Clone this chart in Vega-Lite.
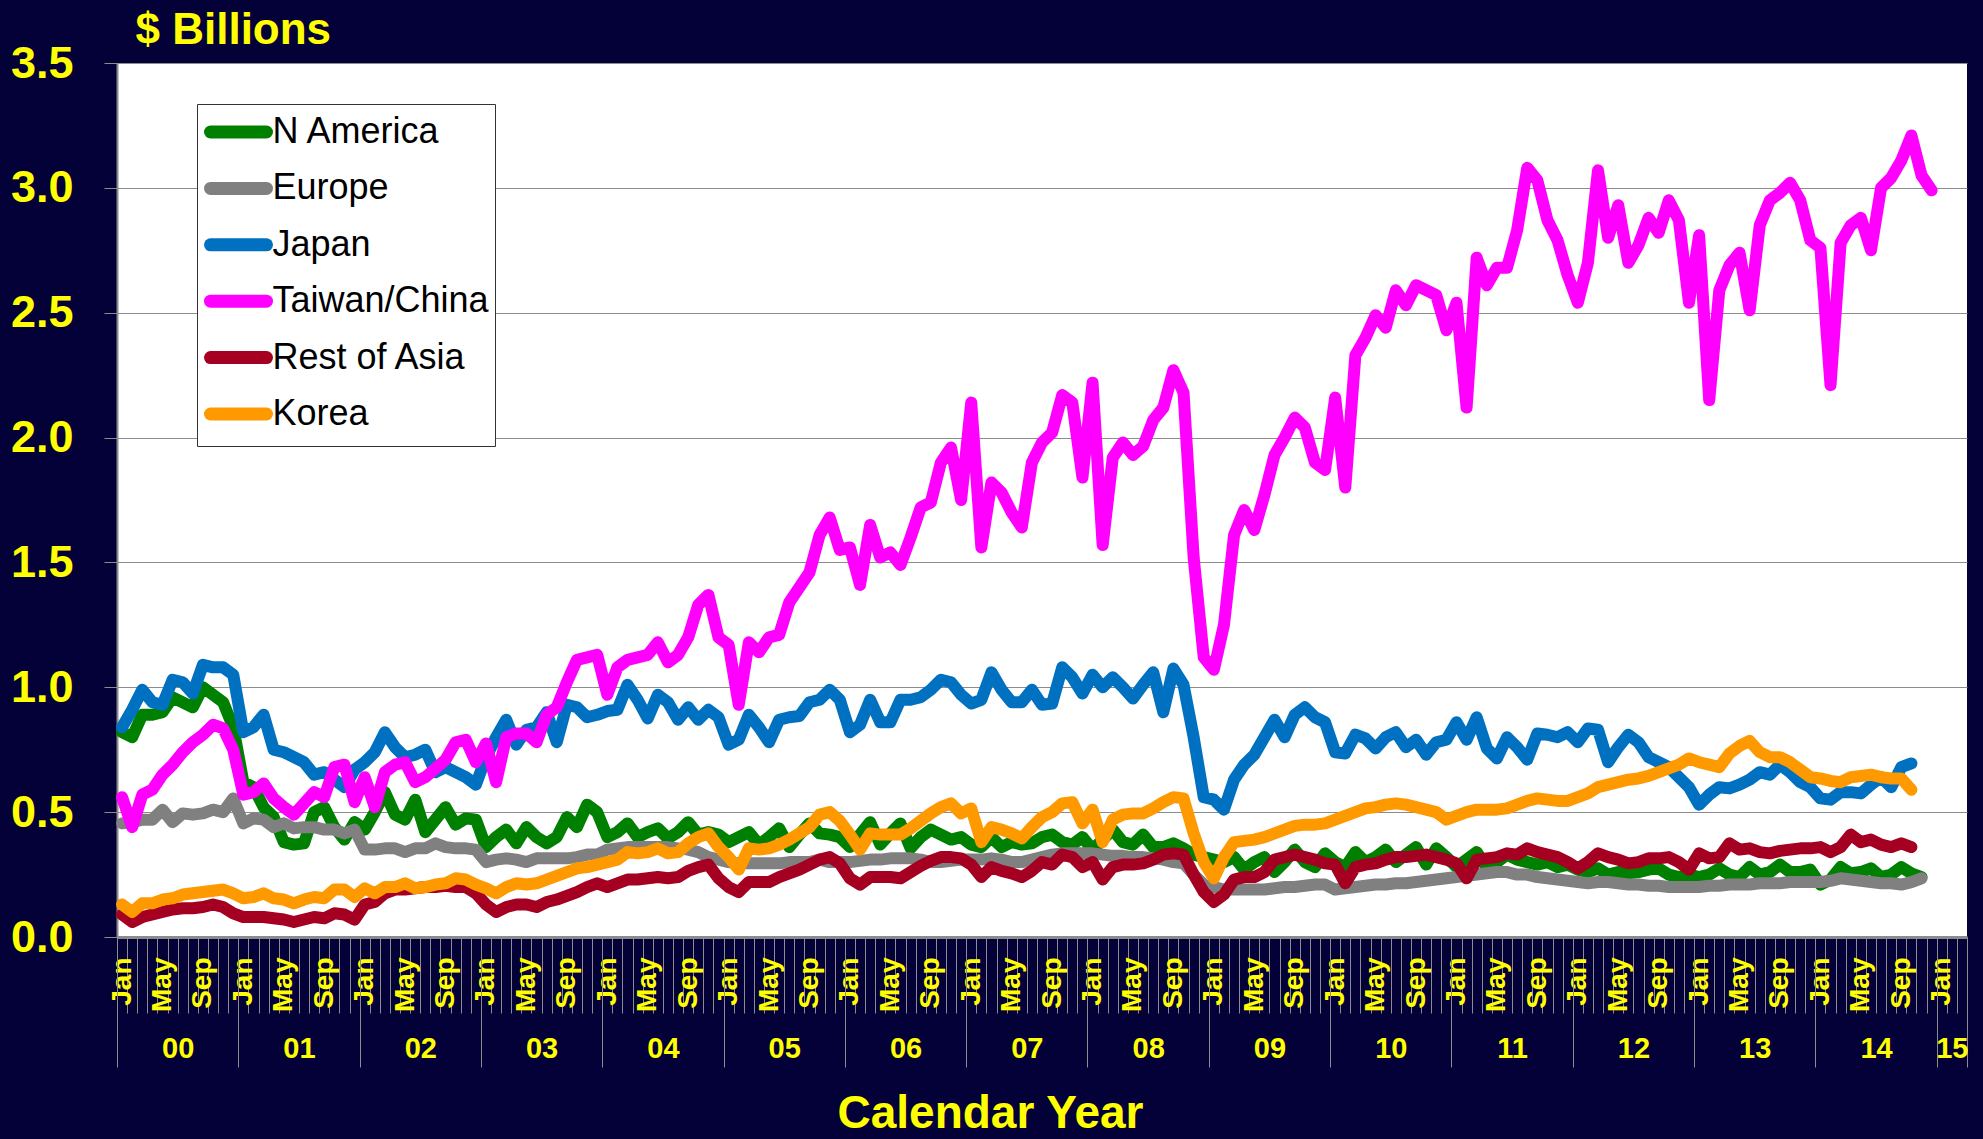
{
"$schema":"https://vega.github.io/schema/vega-lite/v6.json",
"width":1850,"height":874,
"autosize":{"type":"none"},
"padding":{"left":117,"top":63,"right":16,"bottom":202},
"background":"#040038",
"config":{"font":"Liberation Sans","view":{"fill":"white","stroke":null},
"axis":{"labelFont":"Liberation Sans","labelFontWeight":"bold","labelColor":"#FFFF00","tickColor":"#8c8c8c","domainColor":"#8c8c8c","grid":false,"labelFlush":false,"labelOverlap":false,"labelBound":false,"titleFont":"Liberation Sans","titleFontWeight":"bold","titleColor":"#FFFF00"}},
"data":{"values":[
{"s":"N America","m":0,"v":0.82},{"s":"N America","m":1,"v":0.80},{"s":"N America","m":2,"v":0.89},{"s":"N America","m":3,"v":0.89},{"s":"N America","m":4,"v":0.90},{"s":"N America","m":5,"v":0.96},{"s":"N America","m":6,"v":0.94},{"s":"N America","m":7,"v":0.92},{"s":"N America","m":8,"v":1.00},{"s":"N America","m":9,"v":0.97},{"s":"N America","m":10,"v":0.94},{"s":"N America","m":11,"v":0.84},
{"s":"N America","m":12,"v":0.62},{"s":"N America","m":13,"v":0.60},{"s":"N America","m":14,"v":0.52},{"s":"N America","m":15,"v":0.48},{"s":"N America","m":16,"v":0.38},{"s":"N America","m":17,"v":0.37},{"s":"N America","m":18,"v":0.375},{"s":"N America","m":19,"v":0.50},{"s":"N America","m":20,"v":0.52},{"s":"N America","m":21,"v":0.44},{"s":"N America","m":22,"v":0.39},{"s":"N America","m":23,"v":0.46},
{"s":"N America","m":24,"v":0.43},{"s":"N America","m":25,"v":0.50},{"s":"N America","m":26,"v":0.58},{"s":"N America","m":27,"v":0.49},{"s":"N America","m":28,"v":0.47},{"s":"N America","m":29,"v":0.55},{"s":"N America","m":30,"v":0.42},{"s":"N America","m":31,"v":0.47},{"s":"N America","m":32,"v":0.52},{"s":"N America","m":33,"v":0.45},{"s":"N America","m":34,"v":0.475},{"s":"N America","m":35,"v":0.47},
{"s":"N America","m":36,"v":0.36},{"s":"N America","m":37,"v":0.40},{"s":"N America","m":38,"v":0.43},{"s":"N America","m":39,"v":0.375},{"s":"N America","m":40,"v":0.44},{"s":"N America","m":41,"v":0.40},{"s":"N America","m":42,"v":0.375},{"s":"N America","m":43,"v":0.40},{"s":"N America","m":44,"v":0.48},{"s":"N America","m":45,"v":0.44},{"s":"N America","m":46,"v":0.53},{"s":"N America","m":47,"v":0.50},
{"s":"N America","m":48,"v":0.40},{"s":"N America","m":49,"v":0.42},{"s":"N America","m":50,"v":0.455},{"s":"N America","m":51,"v":0.40},{"s":"N America","m":52,"v":0.42},{"s":"N America","m":53,"v":0.435},{"s":"N America","m":54,"v":0.395},{"s":"N America","m":55,"v":0.42},{"s":"N America","m":56,"v":0.46},{"s":"N America","m":57,"v":0.41},{"s":"N America","m":58,"v":0.42},{"s":"N America","m":59,"v":0.41},
{"s":"N America","m":60,"v":0.38},{"s":"N America","m":61,"v":0.40},{"s":"N America","m":62,"v":0.42},{"s":"N America","m":63,"v":0.37},{"s":"N America","m":64,"v":0.40},{"s":"N America","m":65,"v":0.435},{"s":"N America","m":66,"v":0.36},{"s":"N America","m":67,"v":0.41},{"s":"N America","m":68,"v":0.455},{"s":"N America","m":69,"v":0.415},{"s":"N America","m":70,"v":0.41},{"s":"N America","m":71,"v":0.40},
{"s":"N America","m":72,"v":0.36},{"s":"N America","m":73,"v":0.41},{"s":"N America","m":74,"v":0.46},{"s":"N America","m":75,"v":0.37},{"s":"N America","m":76,"v":0.415},{"s":"N America","m":77,"v":0.455},{"s":"N America","m":78,"v":0.355},{"s":"N America","m":79,"v":0.40},{"s":"N America","m":80,"v":0.43},{"s":"N America","m":81,"v":0.41},{"s":"N America","m":82,"v":0.39},{"s":"N America","m":83,"v":0.40},
{"s":"N America","m":84,"v":0.37},{"s":"N America","m":85,"v":0.36},{"s":"N America","m":86,"v":0.40},{"s":"N America","m":87,"v":0.36},{"s":"N America","m":88,"v":0.38},{"s":"N America","m":89,"v":0.37},{"s":"N America","m":90,"v":0.375},{"s":"N America","m":91,"v":0.40},{"s":"N America","m":92,"v":0.41},{"s":"N America","m":93,"v":0.38},{"s":"N America","m":94,"v":0.37},{"s":"N America","m":95,"v":0.40},
{"s":"N America","m":96,"v":0.35},{"s":"N America","m":97,"v":0.39},{"s":"N America","m":98,"v":0.43},{"s":"N America","m":99,"v":0.38},{"s":"N America","m":100,"v":0.37},{"s":"N America","m":101,"v":0.41},{"s":"N America","m":102,"v":0.36},{"s":"N America","m":103,"v":0.36},{"s":"N America","m":104,"v":0.375},{"s":"N America","m":105,"v":0.355},{"s":"N America","m":106,"v":0.33},{"s":"N America","m":107,"v":0.32},
{"s":"N America","m":108,"v":0.31},{"s":"N America","m":109,"v":0.30},{"s":"N America","m":110,"v":0.32},{"s":"N America","m":111,"v":0.27},{"s":"N America","m":112,"v":0.30},{"s":"N America","m":113,"v":0.32},{"s":"N America","m":114,"v":0.26},{"s":"N America","m":115,"v":0.30},{"s":"N America","m":116,"v":0.35},{"s":"N America","m":117,"v":0.30},{"s":"N America","m":118,"v":0.28},{"s":"N America","m":119,"v":0.335},
{"s":"N America","m":120,"v":0.30},{"s":"N America","m":121,"v":0.28},{"s":"N America","m":122,"v":0.34},{"s":"N America","m":123,"v":0.30},{"s":"N America","m":124,"v":0.32},{"s":"N America","m":125,"v":0.35},{"s":"N America","m":126,"v":0.30},{"s":"N America","m":127,"v":0.33},{"s":"N America","m":128,"v":0.36},{"s":"N America","m":129,"v":0.29},{"s":"N America","m":130,"v":0.355},{"s":"N America","m":131,"v":0.32},
{"s":"N America","m":132,"v":0.28},{"s":"N America","m":133,"v":0.31},{"s":"N America","m":134,"v":0.34},{"s":"N America","m":135,"v":0.28},{"s":"N America","m":136,"v":0.30},{"s":"N America","m":137,"v":0.33},{"s":"N America","m":138,"v":0.31},{"s":"N America","m":139,"v":0.30},{"s":"N America","m":140,"v":0.29},{"s":"N America","m":141,"v":0.30},{"s":"N America","m":142,"v":0.28},{"s":"N America","m":143,"v":0.29},
{"s":"N America","m":144,"v":0.27},{"s":"N America","m":145,"v":0.26},{"s":"N America","m":146,"v":0.275},{"s":"N America","m":147,"v":0.25},{"s":"N America","m":148,"v":0.26},{"s":"N America","m":149,"v":0.255},{"s":"N America","m":150,"v":0.26},{"s":"N America","m":151,"v":0.27},{"s":"N America","m":152,"v":0.275},{"s":"N America","m":153,"v":0.25},{"s":"N America","m":154,"v":0.24},{"s":"N America","m":155,"v":0.25},
{"s":"N America","m":156,"v":0.24},{"s":"N America","m":157,"v":0.25},{"s":"N America","m":158,"v":0.275},{"s":"N America","m":159,"v":0.25},{"s":"N America","m":160,"v":0.24},{"s":"N America","m":161,"v":0.28},{"s":"N America","m":162,"v":0.25},{"s":"N America","m":163,"v":0.26},{"s":"N America","m":164,"v":0.29},{"s":"N America","m":165,"v":0.26},{"s":"N America","m":166,"v":0.26},{"s":"N America","m":167,"v":0.27},
{"s":"N America","m":168,"v":0.21},{"s":"N America","m":169,"v":0.23},{"s":"N America","m":170,"v":0.28},{"s":"N America","m":171,"v":0.255},{"s":"N America","m":172,"v":0.26},{"s":"N America","m":173,"v":0.275},{"s":"N America","m":174,"v":0.24},{"s":"N America","m":175,"v":0.25},{"s":"N America","m":176,"v":0.28},{"s":"N America","m":177,"v":0.255},{"s":"N America","m":178,"v":0.24},
{"s":"Europe","m":0,"v":0.455},{"s":"Europe","m":1,"v":0.46},{"s":"Europe","m":2,"v":0.47},{"s":"Europe","m":3,"v":0.47},{"s":"Europe","m":4,"v":0.51},{"s":"Europe","m":5,"v":0.46},{"s":"Europe","m":6,"v":0.495},{"s":"Europe","m":7,"v":0.49},{"s":"Europe","m":8,"v":0.495},{"s":"Europe","m":9,"v":0.51},{"s":"Europe","m":10,"v":0.50},{"s":"Europe","m":11,"v":0.555},
{"s":"Europe","m":12,"v":0.455},{"s":"Europe","m":13,"v":0.475},{"s":"Europe","m":14,"v":0.47},{"s":"Europe","m":15,"v":0.44},{"s":"Europe","m":16,"v":0.455},{"s":"Europe","m":17,"v":0.435},{"s":"Europe","m":18,"v":0.44},{"s":"Europe","m":19,"v":0.44},{"s":"Europe","m":20,"v":0.43},{"s":"Europe","m":21,"v":0.43},{"s":"Europe","m":22,"v":0.415},{"s":"Europe","m":23,"v":0.43},
{"s":"Europe","m":24,"v":0.35},{"s":"Europe","m":25,"v":0.35},{"s":"Europe","m":26,"v":0.355},{"s":"Europe","m":27,"v":0.355},{"s":"Europe","m":28,"v":0.34},{"s":"Europe","m":29,"v":0.355},{"s":"Europe","m":30,"v":0.355},{"s":"Europe","m":31,"v":0.375},{"s":"Europe","m":32,"v":0.36},{"s":"Europe","m":33,"v":0.355},{"s":"Europe","m":34,"v":0.355},{"s":"Europe","m":35,"v":0.35},
{"s":"Europe","m":36,"v":0.30},{"s":"Europe","m":37,"v":0.31},{"s":"Europe","m":38,"v":0.315},{"s":"Europe","m":39,"v":0.31},{"s":"Europe","m":40,"v":0.30},{"s":"Europe","m":41,"v":0.315},{"s":"Europe","m":42,"v":0.315},{"s":"Europe","m":43,"v":0.315},{"s":"Europe","m":44,"v":0.315},{"s":"Europe","m":45,"v":0.32},{"s":"Europe","m":46,"v":0.33},{"s":"Europe","m":47,"v":0.33},
{"s":"Europe","m":48,"v":0.35},{"s":"Europe","m":49,"v":0.355},{"s":"Europe","m":50,"v":0.36},{"s":"Europe","m":51,"v":0.36},{"s":"Europe","m":52,"v":0.36},{"s":"Europe","m":53,"v":0.36},{"s":"Europe","m":54,"v":0.36},{"s":"Europe","m":55,"v":0.355},{"s":"Europe","m":56,"v":0.35},{"s":"Europe","m":57,"v":0.34},{"s":"Europe","m":58,"v":0.32},{"s":"Europe","m":59,"v":0.31},
{"s":"Europe","m":60,"v":0.30},{"s":"Europe","m":61,"v":0.295},{"s":"Europe","m":62,"v":0.295},{"s":"Europe","m":63,"v":0.295},{"s":"Europe","m":64,"v":0.295},{"s":"Europe","m":65,"v":0.295},{"s":"Europe","m":66,"v":0.30},{"s":"Europe","m":67,"v":0.30},{"s":"Europe","m":68,"v":0.30},{"s":"Europe","m":69,"v":0.31},{"s":"Europe","m":70,"v":0.30},{"s":"Europe","m":71,"v":0.30},
{"s":"Europe","m":72,"v":0.30},{"s":"Europe","m":73,"v":0.305},{"s":"Europe","m":74,"v":0.31},{"s":"Europe","m":75,"v":0.31},{"s":"Europe","m":76,"v":0.315},{"s":"Europe","m":77,"v":0.315},{"s":"Europe","m":78,"v":0.315},{"s":"Europe","m":79,"v":0.31},{"s":"Europe","m":80,"v":0.30},{"s":"Europe","m":81,"v":0.30},{"s":"Europe","m":82,"v":0.305},{"s":"Europe","m":83,"v":0.31},
{"s":"Europe","m":84,"v":0.31},{"s":"Europe","m":85,"v":0.31},{"s":"Europe","m":86,"v":0.315},{"s":"Europe","m":87,"v":0.31},{"s":"Europe","m":88,"v":0.30},{"s":"Europe","m":89,"v":0.30},{"s":"Europe","m":90,"v":0.31},{"s":"Europe","m":91,"v":0.32},{"s":"Europe","m":92,"v":0.33},{"s":"Europe","m":93,"v":0.335},{"s":"Europe","m":94,"v":0.335},{"s":"Europe","m":95,"v":0.335},
{"s":"Europe","m":96,"v":0.335},{"s":"Europe","m":97,"v":0.33},{"s":"Europe","m":98,"v":0.325},{"s":"Europe","m":99,"v":0.325},{"s":"Europe","m":100,"v":0.32},{"s":"Europe","m":101,"v":0.32},{"s":"Europe","m":102,"v":0.315},{"s":"Europe","m":103,"v":0.31},{"s":"Europe","m":104,"v":0.30},{"s":"Europe","m":105,"v":0.295},{"s":"Europe","m":106,"v":0.25},{"s":"Europe","m":107,"v":0.21},
{"s":"Europe","m":108,"v":0.20},{"s":"Europe","m":109,"v":0.19},{"s":"Europe","m":110,"v":0.19},{"s":"Europe","m":111,"v":0.19},{"s":"Europe","m":112,"v":0.19},{"s":"Europe","m":113,"v":0.19},{"s":"Europe","m":114,"v":0.195},{"s":"Europe","m":115,"v":0.20},{"s":"Europe","m":116,"v":0.20},{"s":"Europe","m":117,"v":0.205},{"s":"Europe","m":118,"v":0.21},{"s":"Europe","m":119,"v":0.21},
{"s":"Europe","m":120,"v":0.19},{"s":"Europe","m":121,"v":0.195},{"s":"Europe","m":122,"v":0.20},{"s":"Europe","m":123,"v":0.205},{"s":"Europe","m":124,"v":0.21},{"s":"Europe","m":125,"v":0.21},{"s":"Europe","m":126,"v":0.215},{"s":"Europe","m":127,"v":0.215},{"s":"Europe","m":128,"v":0.22},{"s":"Europe","m":129,"v":0.225},{"s":"Europe","m":130,"v":0.23},{"s":"Europe","m":131,"v":0.235},
{"s":"Europe","m":132,"v":0.24},{"s":"Europe","m":133,"v":0.245},{"s":"Europe","m":134,"v":0.25},{"s":"Europe","m":135,"v":0.255},{"s":"Europe","m":136,"v":0.26},{"s":"Europe","m":137,"v":0.26},{"s":"Europe","m":138,"v":0.25},{"s":"Europe","m":139,"v":0.25},{"s":"Europe","m":140,"v":0.24},{"s":"Europe","m":141,"v":0.235},{"s":"Europe","m":142,"v":0.23},{"s":"Europe","m":143,"v":0.225},
{"s":"Europe","m":144,"v":0.22},{"s":"Europe","m":145,"v":0.215},{"s":"Europe","m":146,"v":0.22},{"s":"Europe","m":147,"v":0.22},{"s":"Europe","m":148,"v":0.215},{"s":"Europe","m":149,"v":0.21},{"s":"Europe","m":150,"v":0.21},{"s":"Europe","m":151,"v":0.205},{"s":"Europe","m":152,"v":0.205},{"s":"Europe","m":153,"v":0.20},{"s":"Europe","m":154,"v":0.20},{"s":"Europe","m":155,"v":0.20},
{"s":"Europe","m":156,"v":0.20},{"s":"Europe","m":157,"v":0.205},{"s":"Europe","m":158,"v":0.205},{"s":"Europe","m":159,"v":0.21},{"s":"Europe","m":160,"v":0.21},{"s":"Europe","m":161,"v":0.21},{"s":"Europe","m":162,"v":0.215},{"s":"Europe","m":163,"v":0.215},{"s":"Europe","m":164,"v":0.215},{"s":"Europe","m":165,"v":0.22},{"s":"Europe","m":166,"v":0.22},{"s":"Europe","m":167,"v":0.22},
{"s":"Europe","m":168,"v":0.22},{"s":"Europe","m":169,"v":0.225},{"s":"Europe","m":170,"v":0.235},{"s":"Europe","m":171,"v":0.23},{"s":"Europe","m":172,"v":0.225},{"s":"Europe","m":173,"v":0.22},{"s":"Europe","m":174,"v":0.215},{"s":"Europe","m":175,"v":0.215},{"s":"Europe","m":176,"v":0.21},{"s":"Europe","m":177,"v":0.22},{"s":"Europe","m":178,"v":0.235},
{"s":"Japan","m":0,"v":0.84},{"s":"Japan","m":1,"v":0.91},{"s":"Japan","m":2,"v":0.99},{"s":"Japan","m":3,"v":0.94},{"s":"Japan","m":4,"v":0.93},{"s":"Japan","m":5,"v":1.03},{"s":"Japan","m":6,"v":1.02},{"s":"Japan","m":7,"v":0.975},{"s":"Japan","m":8,"v":1.09},{"s":"Japan","m":9,"v":1.08},{"s":"Japan","m":10,"v":1.08},{"s":"Japan","m":11,"v":1.05},
{"s":"Japan","m":12,"v":0.82},{"s":"Japan","m":13,"v":0.84},{"s":"Japan","m":14,"v":0.89},{"s":"Japan","m":15,"v":0.75},{"s":"Japan","m":16,"v":0.74},{"s":"Japan","m":17,"v":0.72},{"s":"Japan","m":18,"v":0.70},{"s":"Japan","m":19,"v":0.65},{"s":"Japan","m":20,"v":0.66},{"s":"Japan","m":21,"v":0.63},{"s":"Japan","m":22,"v":0.60},{"s":"Japan","m":23,"v":0.67},
{"s":"Japan","m":24,"v":0.70},{"s":"Japan","m":25,"v":0.74},{"s":"Japan","m":26,"v":0.82},{"s":"Japan","m":27,"v":0.76},{"s":"Japan","m":28,"v":0.72},{"s":"Japan","m":29,"v":0.73},{"s":"Japan","m":30,"v":0.75},{"s":"Japan","m":31,"v":0.66},{"s":"Japan","m":32,"v":0.68},{"s":"Japan","m":33,"v":0.66},{"s":"Japan","m":34,"v":0.64},{"s":"Japan","m":35,"v":0.61},
{"s":"Japan","m":36,"v":0.72},{"s":"Japan","m":37,"v":0.80},{"s":"Japan","m":38,"v":0.87},{"s":"Japan","m":39,"v":0.77},{"s":"Japan","m":40,"v":0.83},{"s":"Japan","m":41,"v":0.84},{"s":"Japan","m":42,"v":0.90},{"s":"Japan","m":43,"v":0.78},{"s":"Japan","m":44,"v":0.93},{"s":"Japan","m":45,"v":0.92},{"s":"Japan","m":46,"v":0.88},{"s":"Japan","m":47,"v":0.89},
{"s":"Japan","m":48,"v":0.905},{"s":"Japan","m":49,"v":0.91},{"s":"Japan","m":50,"v":1.01},{"s":"Japan","m":51,"v":0.95},{"s":"Japan","m":52,"v":0.875},{"s":"Japan","m":53,"v":0.97},{"s":"Japan","m":54,"v":0.94},{"s":"Japan","m":55,"v":0.87},{"s":"Japan","m":56,"v":0.92},{"s":"Japan","m":57,"v":0.87},{"s":"Japan","m":58,"v":0.91},{"s":"Japan","m":59,"v":0.88},
{"s":"Japan","m":60,"v":0.77},{"s":"Japan","m":61,"v":0.79},{"s":"Japan","m":62,"v":0.89},{"s":"Japan","m":63,"v":0.84},{"s":"Japan","m":64,"v":0.78},{"s":"Japan","m":65,"v":0.87},{"s":"Japan","m":66,"v":0.88},{"s":"Japan","m":67,"v":0.885},{"s":"Japan","m":68,"v":0.94},{"s":"Japan","m":69,"v":0.95},{"s":"Japan","m":70,"v":0.99},{"s":"Japan","m":71,"v":0.95},
{"s":"Japan","m":72,"v":0.82},{"s":"Japan","m":73,"v":0.85},{"s":"Japan","m":74,"v":0.95},{"s":"Japan","m":75,"v":0.86},{"s":"Japan","m":76,"v":0.86},{"s":"Japan","m":77,"v":0.95},{"s":"Japan","m":78,"v":0.95},{"s":"Japan","m":79,"v":0.96},{"s":"Japan","m":80,"v":0.99},{"s":"Japan","m":81,"v":1.03},{"s":"Japan","m":82,"v":1.02},{"s":"Japan","m":83,"v":0.97},
{"s":"Japan","m":84,"v":0.935},{"s":"Japan","m":85,"v":0.95},{"s":"Japan","m":86,"v":1.06},{"s":"Japan","m":87,"v":0.99},{"s":"Japan","m":88,"v":0.94},{"s":"Japan","m":89,"v":0.94},{"s":"Japan","m":90,"v":0.99},{"s":"Japan","m":91,"v":0.93},{"s":"Japan","m":92,"v":0.935},{"s":"Japan","m":93,"v":1.08},{"s":"Japan","m":94,"v":1.04},{"s":"Japan","m":95,"v":0.975},
{"s":"Japan","m":96,"v":1.05},{"s":"Japan","m":97,"v":1.00},{"s":"Japan","m":98,"v":1.04},{"s":"Japan","m":99,"v":1.00},{"s":"Japan","m":100,"v":0.955},{"s":"Japan","m":101,"v":1.01},{"s":"Japan","m":102,"v":1.06},{"s":"Japan","m":103,"v":0.90},{"s":"Japan","m":104,"v":1.075},{"s":"Japan","m":105,"v":1.01},{"s":"Japan","m":106,"v":0.80},{"s":"Japan","m":107,"v":0.56},
{"s":"Japan","m":108,"v":0.55},{"s":"Japan","m":109,"v":0.51},{"s":"Japan","m":110,"v":0.63},{"s":"Japan","m":111,"v":0.69},{"s":"Japan","m":112,"v":0.73},{"s":"Japan","m":113,"v":0.80},{"s":"Japan","m":114,"v":0.87},{"s":"Japan","m":115,"v":0.80},{"s":"Japan","m":116,"v":0.89},{"s":"Japan","m":117,"v":0.92},{"s":"Japan","m":118,"v":0.88},{"s":"Japan","m":119,"v":0.86},
{"s":"Japan","m":120,"v":0.74},{"s":"Japan","m":121,"v":0.735},{"s":"Japan","m":122,"v":0.81},{"s":"Japan","m":123,"v":0.795},{"s":"Japan","m":124,"v":0.755},{"s":"Japan","m":125,"v":0.80},{"s":"Japan","m":126,"v":0.82},{"s":"Japan","m":127,"v":0.76},{"s":"Japan","m":128,"v":0.79},{"s":"Japan","m":129,"v":0.73},{"s":"Japan","m":130,"v":0.78},{"s":"Japan","m":131,"v":0.79},
{"s":"Japan","m":132,"v":0.86},{"s":"Japan","m":133,"v":0.79},{"s":"Japan","m":134,"v":0.88},{"s":"Japan","m":135,"v":0.755},{"s":"Japan","m":136,"v":0.715},{"s":"Japan","m":137,"v":0.80},{"s":"Japan","m":138,"v":0.76},{"s":"Japan","m":139,"v":0.71},{"s":"Japan","m":140,"v":0.815},{"s":"Japan","m":141,"v":0.81},{"s":"Japan","m":142,"v":0.80},{"s":"Japan","m":143,"v":0.82},
{"s":"Japan","m":144,"v":0.78},{"s":"Japan","m":145,"v":0.835},{"s":"Japan","m":146,"v":0.83},{"s":"Japan","m":147,"v":0.70},{"s":"Japan","m":148,"v":0.76},{"s":"Japan","m":149,"v":0.81},{"s":"Japan","m":150,"v":0.78},{"s":"Japan","m":151,"v":0.72},{"s":"Japan","m":152,"v":0.70},{"s":"Japan","m":153,"v":0.68},{"s":"Japan","m":154,"v":0.64},{"s":"Japan","m":155,"v":0.60},
{"s":"Japan","m":156,"v":0.53},{"s":"Japan","m":157,"v":0.57},{"s":"Japan","m":158,"v":0.60},{"s":"Japan","m":159,"v":0.595},{"s":"Japan","m":160,"v":0.61},{"s":"Japan","m":161,"v":0.63},{"s":"Japan","m":162,"v":0.66},{"s":"Japan","m":163,"v":0.65},{"s":"Japan","m":164,"v":0.69},{"s":"Japan","m":165,"v":0.66},{"s":"Japan","m":166,"v":0.62},{"s":"Japan","m":167,"v":0.60},
{"s":"Japan","m":168,"v":0.555},{"s":"Japan","m":169,"v":0.55},{"s":"Japan","m":170,"v":0.58},{"s":"Japan","m":171,"v":0.58},{"s":"Japan","m":172,"v":0.575},{"s":"Japan","m":173,"v":0.61},{"s":"Japan","m":174,"v":0.64},{"s":"Japan","m":175,"v":0.60},{"s":"Japan","m":176,"v":0.68},{"s":"Japan","m":177,"v":0.695},
{"s":"Taiwan/China","m":0,"v":0.56},{"s":"Taiwan/China","m":1,"v":0.44},{"s":"Taiwan/China","m":2,"v":0.57},{"s":"Taiwan/China","m":3,"v":0.59},{"s":"Taiwan/China","m":4,"v":0.65},{"s":"Taiwan/China","m":5,"v":0.69},{"s":"Taiwan/China","m":6,"v":0.74},{"s":"Taiwan/China","m":7,"v":0.78},{"s":"Taiwan/China","m":8,"v":0.81},{"s":"Taiwan/China","m":9,"v":0.85},{"s":"Taiwan/China","m":10,"v":0.835},{"s":"Taiwan/China","m":11,"v":0.75},
{"s":"Taiwan/China","m":12,"v":0.57},{"s":"Taiwan/China","m":13,"v":0.58},{"s":"Taiwan/China","m":14,"v":0.615},{"s":"Taiwan/China","m":15,"v":0.555},{"s":"Taiwan/China","m":16,"v":0.52},{"s":"Taiwan/China","m":17,"v":0.49},{"s":"Taiwan/China","m":18,"v":0.535},{"s":"Taiwan/China","m":19,"v":0.58},{"s":"Taiwan/China","m":20,"v":0.56},{"s":"Taiwan/China","m":21,"v":0.68},{"s":"Taiwan/China","m":22,"v":0.69},{"s":"Taiwan/China","m":23,"v":0.54},
{"s":"Taiwan/China","m":24,"v":0.64},{"s":"Taiwan/China","m":25,"v":0.52},{"s":"Taiwan/China","m":26,"v":0.66},{"s":"Taiwan/China","m":27,"v":0.69},{"s":"Taiwan/China","m":28,"v":0.70},{"s":"Taiwan/China","m":29,"v":0.62},{"s":"Taiwan/China","m":30,"v":0.64},{"s":"Taiwan/China","m":31,"v":0.675},{"s":"Taiwan/China","m":32,"v":0.71},{"s":"Taiwan/China","m":33,"v":0.78},{"s":"Taiwan/China","m":34,"v":0.79},{"s":"Taiwan/China","m":35,"v":0.70},
{"s":"Taiwan/China","m":36,"v":0.775},{"s":"Taiwan/China","m":37,"v":0.62},{"s":"Taiwan/China","m":38,"v":0.80},{"s":"Taiwan/China","m":39,"v":0.815},{"s":"Taiwan/China","m":40,"v":0.815},{"s":"Taiwan/China","m":41,"v":0.78},{"s":"Taiwan/China","m":42,"v":0.89},{"s":"Taiwan/China","m":43,"v":0.92},{"s":"Taiwan/China","m":44,"v":1.02},{"s":"Taiwan/China","m":45,"v":1.11},{"s":"Taiwan/China","m":46,"v":1.12},{"s":"Taiwan/China","m":47,"v":1.13},
{"s":"Taiwan/China","m":48,"v":0.97},{"s":"Taiwan/China","m":49,"v":1.08},{"s":"Taiwan/China","m":50,"v":1.11},{"s":"Taiwan/China","m":51,"v":1.12},{"s":"Taiwan/China","m":52,"v":1.13},{"s":"Taiwan/China","m":53,"v":1.18},{"s":"Taiwan/China","m":54,"v":1.10},{"s":"Taiwan/China","m":55,"v":1.13},{"s":"Taiwan/China","m":56,"v":1.20},{"s":"Taiwan/China","m":57,"v":1.33},{"s":"Taiwan/China","m":58,"v":1.37},{"s":"Taiwan/China","m":59,"v":1.20},
{"s":"Taiwan/China","m":60,"v":1.17},{"s":"Taiwan/China","m":61,"v":0.93},{"s":"Taiwan/China","m":62,"v":1.18},{"s":"Taiwan/China","m":63,"v":1.14},{"s":"Taiwan/China","m":64,"v":1.20},{"s":"Taiwan/China","m":65,"v":1.21},{"s":"Taiwan/China","m":66,"v":1.34},{"s":"Taiwan/China","m":67,"v":1.40},{"s":"Taiwan/China","m":68,"v":1.46},{"s":"Taiwan/China","m":69,"v":1.61},{"s":"Taiwan/China","m":70,"v":1.68},{"s":"Taiwan/China","m":71,"v":1.55},
{"s":"Taiwan/China","m":72,"v":1.56},{"s":"Taiwan/China","m":73,"v":1.41},{"s":"Taiwan/China","m":74,"v":1.65},{"s":"Taiwan/China","m":75,"v":1.52},{"s":"Taiwan/China","m":76,"v":1.54},{"s":"Taiwan/China","m":77,"v":1.49},{"s":"Taiwan/China","m":78,"v":1.60},{"s":"Taiwan/China","m":79,"v":1.72},{"s":"Taiwan/China","m":80,"v":1.74},{"s":"Taiwan/China","m":81,"v":1.90},{"s":"Taiwan/China","m":82,"v":1.96},{"s":"Taiwan/China","m":83,"v":1.75},
{"s":"Taiwan/China","m":84,"v":2.14},{"s":"Taiwan/China","m":85,"v":1.56},{"s":"Taiwan/China","m":86,"v":1.82},{"s":"Taiwan/China","m":87,"v":1.78},{"s":"Taiwan/China","m":88,"v":1.70},{"s":"Taiwan/China","m":89,"v":1.64},{"s":"Taiwan/China","m":90,"v":1.90},{"s":"Taiwan/China","m":91,"v":1.98},{"s":"Taiwan/China","m":92,"v":2.02},{"s":"Taiwan/China","m":93,"v":2.17},{"s":"Taiwan/China","m":94,"v":2.14},{"s":"Taiwan/China","m":95,"v":1.84},
{"s":"Taiwan/China","m":96,"v":2.22},{"s":"Taiwan/China","m":97,"v":1.57},{"s":"Taiwan/China","m":98,"v":1.92},{"s":"Taiwan/China","m":99,"v":1.98},{"s":"Taiwan/China","m":100,"v":1.93},{"s":"Taiwan/China","m":101,"v":1.965},{"s":"Taiwan/China","m":102,"v":2.07},{"s":"Taiwan/China","m":103,"v":2.12},{"s":"Taiwan/China","m":104,"v":2.27},{"s":"Taiwan/China","m":105,"v":2.18},{"s":"Taiwan/China","m":106,"v":1.52},{"s":"Taiwan/China","m":107,"v":1.12},
{"s":"Taiwan/China","m":108,"v":1.07},{"s":"Taiwan/China","m":109,"v":1.25},{"s":"Taiwan/China","m":110,"v":1.61},{"s":"Taiwan/China","m":111,"v":1.71},{"s":"Taiwan/China","m":112,"v":1.63},{"s":"Taiwan/China","m":113,"v":1.77},{"s":"Taiwan/China","m":114,"v":1.93},{"s":"Taiwan/China","m":115,"v":2.00},{"s":"Taiwan/China","m":116,"v":2.08},{"s":"Taiwan/China","m":117,"v":2.04},{"s":"Taiwan/China","m":118,"v":1.90},{"s":"Taiwan/China","m":119,"v":1.87},
{"s":"Taiwan/China","m":120,"v":2.16},{"s":"Taiwan/China","m":121,"v":1.80},{"s":"Taiwan/China","m":122,"v":2.33},{"s":"Taiwan/China","m":123,"v":2.40},{"s":"Taiwan/China","m":124,"v":2.49},{"s":"Taiwan/China","m":125,"v":2.44},{"s":"Taiwan/China","m":126,"v":2.59},{"s":"Taiwan/China","m":127,"v":2.53},{"s":"Taiwan/China","m":128,"v":2.61},{"s":"Taiwan/China","m":129,"v":2.59},{"s":"Taiwan/China","m":130,"v":2.57},{"s":"Taiwan/China","m":131,"v":2.43},
{"s":"Taiwan/China","m":132,"v":2.54},{"s":"Taiwan/China","m":133,"v":2.12},{"s":"Taiwan/China","m":134,"v":2.72},{"s":"Taiwan/China","m":135,"v":2.61},{"s":"Taiwan/China","m":136,"v":2.68},{"s":"Taiwan/China","m":137,"v":2.68},{"s":"Taiwan/China","m":138,"v":2.83},{"s":"Taiwan/China","m":139,"v":3.08},{"s":"Taiwan/China","m":140,"v":3.03},{"s":"Taiwan/China","m":141,"v":2.87},{"s":"Taiwan/China","m":142,"v":2.79},{"s":"Taiwan/China","m":143,"v":2.65},
{"s":"Taiwan/China","m":144,"v":2.54},{"s":"Taiwan/China","m":145,"v":2.70},{"s":"Taiwan/China","m":146,"v":3.07},{"s":"Taiwan/China","m":147,"v":2.80},{"s":"Taiwan/China","m":148,"v":2.93},{"s":"Taiwan/China","m":149,"v":2.70},{"s":"Taiwan/China","m":150,"v":2.77},{"s":"Taiwan/China","m":151,"v":2.88},{"s":"Taiwan/China","m":152,"v":2.82},{"s":"Taiwan/China","m":153,"v":2.95},{"s":"Taiwan/China","m":154,"v":2.87},{"s":"Taiwan/China","m":155,"v":2.54},
{"s":"Taiwan/China","m":156,"v":2.81},{"s":"Taiwan/China","m":157,"v":2.15},{"s":"Taiwan/China","m":158,"v":2.59},{"s":"Taiwan/China","m":159,"v":2.69},{"s":"Taiwan/China","m":160,"v":2.74},{"s":"Taiwan/China","m":161,"v":2.51},{"s":"Taiwan/China","m":162,"v":2.85},{"s":"Taiwan/China","m":163,"v":2.95},{"s":"Taiwan/China","m":164,"v":2.98},{"s":"Taiwan/China","m":165,"v":3.02},{"s":"Taiwan/China","m":166,"v":2.95},{"s":"Taiwan/China","m":167,"v":2.79},
{"s":"Taiwan/China","m":168,"v":2.76},{"s":"Taiwan/China","m":169,"v":2.21},{"s":"Taiwan/China","m":170,"v":2.78},{"s":"Taiwan/China","m":171,"v":2.85},{"s":"Taiwan/China","m":172,"v":2.88},{"s":"Taiwan/China","m":173,"v":2.75},{"s":"Taiwan/China","m":174,"v":3.00},{"s":"Taiwan/China","m":175,"v":3.04},{"s":"Taiwan/China","m":176,"v":3.11},{"s":"Taiwan/China","m":177,"v":3.21},{"s":"Taiwan/China","m":178,"v":3.05},{"s":"Taiwan/China","m":179,"v":2.99},
{"s":"Rest of Asia","m":0,"v":0.09},{"s":"Rest of Asia","m":1,"v":0.06},{"s":"Rest of Asia","m":2,"v":0.08},{"s":"Rest of Asia","m":3,"v":0.09},{"s":"Rest of Asia","m":4,"v":0.10},{"s":"Rest of Asia","m":5,"v":0.11},{"s":"Rest of Asia","m":6,"v":0.115},{"s":"Rest of Asia","m":7,"v":0.115},{"s":"Rest of Asia","m":8,"v":0.12},{"s":"Rest of Asia","m":9,"v":0.13},{"s":"Rest of Asia","m":10,"v":0.12},{"s":"Rest of Asia","m":11,"v":0.095},
{"s":"Rest of Asia","m":12,"v":0.08},{"s":"Rest of Asia","m":13,"v":0.08},{"s":"Rest of Asia","m":14,"v":0.08},{"s":"Rest of Asia","m":15,"v":0.075},{"s":"Rest of Asia","m":16,"v":0.07},{"s":"Rest of Asia","m":17,"v":0.06},{"s":"Rest of Asia","m":18,"v":0.07},{"s":"Rest of Asia","m":19,"v":0.08},{"s":"Rest of Asia","m":20,"v":0.075},{"s":"Rest of Asia","m":21,"v":0.095},{"s":"Rest of Asia","m":22,"v":0.09},{"s":"Rest of Asia","m":23,"v":0.07},
{"s":"Rest of Asia","m":24,"v":0.13},{"s":"Rest of Asia","m":25,"v":0.14},{"s":"Rest of Asia","m":26,"v":0.175},{"s":"Rest of Asia","m":27,"v":0.19},{"s":"Rest of Asia","m":28,"v":0.19},{"s":"Rest of Asia","m":29,"v":0.195},{"s":"Rest of Asia","m":30,"v":0.20},{"s":"Rest of Asia","m":31,"v":0.20},{"s":"Rest of Asia","m":32,"v":0.205},{"s":"Rest of Asia","m":33,"v":0.20},{"s":"Rest of Asia","m":34,"v":0.20},{"s":"Rest of Asia","m":35,"v":0.175},
{"s":"Rest of Asia","m":36,"v":0.13},{"s":"Rest of Asia","m":37,"v":0.10},{"s":"Rest of Asia","m":38,"v":0.12},{"s":"Rest of Asia","m":39,"v":0.13},{"s":"Rest of Asia","m":40,"v":0.13},{"s":"Rest of Asia","m":41,"v":0.12},{"s":"Rest of Asia","m":42,"v":0.14},{"s":"Rest of Asia","m":43,"v":0.15},{"s":"Rest of Asia","m":44,"v":0.165},{"s":"Rest of Asia","m":45,"v":0.18},{"s":"Rest of Asia","m":46,"v":0.20},{"s":"Rest of Asia","m":47,"v":0.215},
{"s":"Rest of Asia","m":48,"v":0.20},{"s":"Rest of Asia","m":49,"v":0.215},{"s":"Rest of Asia","m":50,"v":0.23},{"s":"Rest of Asia","m":51,"v":0.23},{"s":"Rest of Asia","m":52,"v":0.235},{"s":"Rest of Asia","m":53,"v":0.24},{"s":"Rest of Asia","m":54,"v":0.235},{"s":"Rest of Asia","m":55,"v":0.24},{"s":"Rest of Asia","m":56,"v":0.265},{"s":"Rest of Asia","m":57,"v":0.28},{"s":"Rest of Asia","m":58,"v":0.29},{"s":"Rest of Asia","m":59,"v":0.235},
{"s":"Rest of Asia","m":60,"v":0.20},{"s":"Rest of Asia","m":61,"v":0.18},{"s":"Rest of Asia","m":62,"v":0.22},{"s":"Rest of Asia","m":63,"v":0.22},{"s":"Rest of Asia","m":64,"v":0.22},{"s":"Rest of Asia","m":65,"v":0.24},{"s":"Rest of Asia","m":66,"v":0.255},{"s":"Rest of Asia","m":67,"v":0.27},{"s":"Rest of Asia","m":68,"v":0.29},{"s":"Rest of Asia","m":69,"v":0.31},{"s":"Rest of Asia","m":70,"v":0.32},{"s":"Rest of Asia","m":71,"v":0.295},
{"s":"Rest of Asia","m":72,"v":0.235},{"s":"Rest of Asia","m":73,"v":0.21},{"s":"Rest of Asia","m":74,"v":0.24},{"s":"Rest of Asia","m":75,"v":0.24},{"s":"Rest of Asia","m":76,"v":0.24},{"s":"Rest of Asia","m":77,"v":0.235},{"s":"Rest of Asia","m":78,"v":0.26},{"s":"Rest of Asia","m":79,"v":0.285},{"s":"Rest of Asia","m":80,"v":0.305},{"s":"Rest of Asia","m":81,"v":0.32},{"s":"Rest of Asia","m":82,"v":0.32},{"s":"Rest of Asia","m":83,"v":0.315},
{"s":"Rest of Asia","m":84,"v":0.29},{"s":"Rest of Asia","m":85,"v":0.24},{"s":"Rest of Asia","m":86,"v":0.28},{"s":"Rest of Asia","m":87,"v":0.265},{"s":"Rest of Asia","m":88,"v":0.255},{"s":"Rest of Asia","m":89,"v":0.24},{"s":"Rest of Asia","m":90,"v":0.265},{"s":"Rest of Asia","m":91,"v":0.30},{"s":"Rest of Asia","m":92,"v":0.29},{"s":"Rest of Asia","m":93,"v":0.33},{"s":"Rest of Asia","m":94,"v":0.32},{"s":"Rest of Asia","m":95,"v":0.28},
{"s":"Rest of Asia","m":96,"v":0.30},{"s":"Rest of Asia","m":97,"v":0.23},{"s":"Rest of Asia","m":98,"v":0.28},{"s":"Rest of Asia","m":99,"v":0.29},{"s":"Rest of Asia","m":100,"v":0.29},{"s":"Rest of Asia","m":101,"v":0.295},{"s":"Rest of Asia","m":102,"v":0.31},{"s":"Rest of Asia","m":103,"v":0.33},{"s":"Rest of Asia","m":104,"v":0.335},{"s":"Rest of Asia","m":105,"v":0.33},{"s":"Rest of Asia","m":106,"v":0.25},{"s":"Rest of Asia","m":107,"v":0.18},
{"s":"Rest of Asia","m":108,"v":0.14},{"s":"Rest of Asia","m":109,"v":0.17},{"s":"Rest of Asia","m":110,"v":0.23},{"s":"Rest of Asia","m":111,"v":0.24},{"s":"Rest of Asia","m":112,"v":0.24},{"s":"Rest of Asia","m":113,"v":0.26},{"s":"Rest of Asia","m":114,"v":0.31},{"s":"Rest of Asia","m":115,"v":0.32},{"s":"Rest of Asia","m":116,"v":0.33},{"s":"Rest of Asia","m":117,"v":0.32},{"s":"Rest of Asia","m":118,"v":0.31},{"s":"Rest of Asia","m":119,"v":0.295},
{"s":"Rest of Asia","m":120,"v":0.29},{"s":"Rest of Asia","m":121,"v":0.215},{"s":"Rest of Asia","m":122,"v":0.28},{"s":"Rest of Asia","m":123,"v":0.29},{"s":"Rest of Asia","m":124,"v":0.295},{"s":"Rest of Asia","m":125,"v":0.31},{"s":"Rest of Asia","m":126,"v":0.32},{"s":"Rest of Asia","m":127,"v":0.32},{"s":"Rest of Asia","m":128,"v":0.325},{"s":"Rest of Asia","m":129,"v":0.33},{"s":"Rest of Asia","m":130,"v":0.32},{"s":"Rest of Asia","m":131,"v":0.31},
{"s":"Rest of Asia","m":132,"v":0.295},{"s":"Rest of Asia","m":133,"v":0.235},{"s":"Rest of Asia","m":134,"v":0.31},{"s":"Rest of Asia","m":135,"v":0.315},{"s":"Rest of Asia","m":136,"v":0.32},{"s":"Rest of Asia","m":137,"v":0.335},{"s":"Rest of Asia","m":138,"v":0.33},{"s":"Rest of Asia","m":139,"v":0.355},{"s":"Rest of Asia","m":140,"v":0.34},{"s":"Rest of Asia","m":141,"v":0.33},{"s":"Rest of Asia","m":142,"v":0.32},{"s":"Rest of Asia","m":143,"v":0.30},
{"s":"Rest of Asia","m":144,"v":0.275},{"s":"Rest of Asia","m":145,"v":0.30},{"s":"Rest of Asia","m":146,"v":0.335},{"s":"Rest of Asia","m":147,"v":0.32},{"s":"Rest of Asia","m":148,"v":0.31},{"s":"Rest of Asia","m":149,"v":0.295},{"s":"Rest of Asia","m":150,"v":0.30},{"s":"Rest of Asia","m":151,"v":0.315},{"s":"Rest of Asia","m":152,"v":0.315},{"s":"Rest of Asia","m":153,"v":0.32},{"s":"Rest of Asia","m":154,"v":0.30},{"s":"Rest of Asia","m":155,"v":0.27},
{"s":"Rest of Asia","m":156,"v":0.335},{"s":"Rest of Asia","m":157,"v":0.315},{"s":"Rest of Asia","m":158,"v":0.32},{"s":"Rest of Asia","m":159,"v":0.375},{"s":"Rest of Asia","m":160,"v":0.35},{"s":"Rest of Asia","m":161,"v":0.355},{"s":"Rest of Asia","m":162,"v":0.34},{"s":"Rest of Asia","m":163,"v":0.335},{"s":"Rest of Asia","m":164,"v":0.345},{"s":"Rest of Asia","m":165,"v":0.35},{"s":"Rest of Asia","m":166,"v":0.355},{"s":"Rest of Asia","m":167,"v":0.355},
{"s":"Rest of Asia","m":168,"v":0.36},{"s":"Rest of Asia","m":169,"v":0.34},{"s":"Rest of Asia","m":170,"v":0.36},{"s":"Rest of Asia","m":171,"v":0.41},{"s":"Rest of Asia","m":172,"v":0.38},{"s":"Rest of Asia","m":173,"v":0.39},{"s":"Rest of Asia","m":174,"v":0.37},{"s":"Rest of Asia","m":175,"v":0.36},{"s":"Rest of Asia","m":176,"v":0.375},{"s":"Rest of Asia","m":177,"v":0.36},
{"s":"Korea","m":0,"v":0.13},{"s":"Korea","m":1,"v":0.10},{"s":"Korea","m":2,"v":0.135},{"s":"Korea","m":3,"v":0.135},{"s":"Korea","m":4,"v":0.15},{"s":"Korea","m":5,"v":0.155},{"s":"Korea","m":6,"v":0.17},{"s":"Korea","m":7,"v":0.175},{"s":"Korea","m":8,"v":0.18},{"s":"Korea","m":9,"v":0.185},{"s":"Korea","m":10,"v":0.19},{"s":"Korea","m":11,"v":0.175},
{"s":"Korea","m":12,"v":0.155},{"s":"Korea","m":13,"v":0.16},{"s":"Korea","m":14,"v":0.175},{"s":"Korea","m":15,"v":0.155},{"s":"Korea","m":16,"v":0.15},{"s":"Korea","m":17,"v":0.135},{"s":"Korea","m":18,"v":0.15},{"s":"Korea","m":19,"v":0.16},{"s":"Korea","m":20,"v":0.155},{"s":"Korea","m":21,"v":0.19},{"s":"Korea","m":22,"v":0.19},{"s":"Korea","m":23,"v":0.16},
{"s":"Korea","m":24,"v":0.195},{"s":"Korea","m":25,"v":0.175},{"s":"Korea","m":26,"v":0.20},{"s":"Korea","m":27,"v":0.20},{"s":"Korea","m":28,"v":0.215},{"s":"Korea","m":29,"v":0.195},{"s":"Korea","m":30,"v":0.20},{"s":"Korea","m":31,"v":0.21},{"s":"Korea","m":32,"v":0.215},{"s":"Korea","m":33,"v":0.235},{"s":"Korea","m":34,"v":0.23},{"s":"Korea","m":35,"v":0.21},
{"s":"Korea","m":36,"v":0.195},{"s":"Korea","m":37,"v":0.175},{"s":"Korea","m":38,"v":0.20},{"s":"Korea","m":39,"v":0.215},{"s":"Korea","m":40,"v":0.21},{"s":"Korea","m":41,"v":0.215},{"s":"Korea","m":42,"v":0.23},{"s":"Korea","m":43,"v":0.245},{"s":"Korea","m":44,"v":0.26},{"s":"Korea","m":45,"v":0.275},{"s":"Korea","m":46,"v":0.28},{"s":"Korea","m":47,"v":0.29},
{"s":"Korea","m":48,"v":0.30},{"s":"Korea","m":49,"v":0.31},{"s":"Korea","m":50,"v":0.34},{"s":"Korea","m":51,"v":0.335},{"s":"Korea","m":52,"v":0.34},{"s":"Korea","m":53,"v":0.355},{"s":"Korea","m":54,"v":0.335},{"s":"Korea","m":55,"v":0.34},{"s":"Korea","m":56,"v":0.375},{"s":"Korea","m":57,"v":0.40},{"s":"Korea","m":58,"v":0.415},{"s":"Korea","m":59,"v":0.36},
{"s":"Korea","m":60,"v":0.32},{"s":"Korea","m":61,"v":0.27},{"s":"Korea","m":62,"v":0.355},{"s":"Korea","m":63,"v":0.35},{"s":"Korea","m":64,"v":0.355},{"s":"Korea","m":65,"v":0.37},{"s":"Korea","m":66,"v":0.39},{"s":"Korea","m":67,"v":0.415},{"s":"Korea","m":68,"v":0.44},{"s":"Korea","m":69,"v":0.49},{"s":"Korea","m":70,"v":0.50},{"s":"Korea","m":71,"v":0.465},
{"s":"Korea","m":72,"v":0.41},{"s":"Korea","m":73,"v":0.35},{"s":"Korea","m":74,"v":0.415},{"s":"Korea","m":75,"v":0.41},{"s":"Korea","m":76,"v":0.41},{"s":"Korea","m":77,"v":0.41},{"s":"Korea","m":78,"v":0.435},{"s":"Korea","m":79,"v":0.465},{"s":"Korea","m":80,"v":0.495},{"s":"Korea","m":81,"v":0.52},{"s":"Korea","m":82,"v":0.535},{"s":"Korea","m":83,"v":0.495},
{"s":"Korea","m":84,"v":0.515},{"s":"Korea","m":85,"v":0.38},{"s":"Korea","m":86,"v":0.44},{"s":"Korea","m":87,"v":0.43},{"s":"Korea","m":88,"v":0.415},{"s":"Korea","m":89,"v":0.395},{"s":"Korea","m":90,"v":0.44},{"s":"Korea","m":91,"v":0.48},{"s":"Korea","m":92,"v":0.50},{"s":"Korea","m":93,"v":0.535},{"s":"Korea","m":94,"v":0.54},{"s":"Korea","m":95,"v":0.455},
{"s":"Korea","m":96,"v":0.51},{"s":"Korea","m":97,"v":0.38},{"s":"Korea","m":98,"v":0.47},{"s":"Korea","m":99,"v":0.49},{"s":"Korea","m":100,"v":0.495},{"s":"Korea","m":101,"v":0.495},{"s":"Korea","m":102,"v":0.515},{"s":"Korea","m":103,"v":0.54},{"s":"Korea","m":104,"v":0.56},{"s":"Korea","m":105,"v":0.555},{"s":"Korea","m":106,"v":0.415},{"s":"Korea","m":107,"v":0.30},
{"s":"Korea","m":108,"v":0.235},{"s":"Korea","m":109,"v":0.32},{"s":"Korea","m":110,"v":0.38},{"s":"Korea","m":111,"v":0.385},{"s":"Korea","m":112,"v":0.39},{"s":"Korea","m":113,"v":0.40},{"s":"Korea","m":114,"v":0.415},{"s":"Korea","m":115,"v":0.43},{"s":"Korea","m":116,"v":0.445},{"s":"Korea","m":117,"v":0.45},{"s":"Korea","m":118,"v":0.45},{"s":"Korea","m":119,"v":0.455},
{"s":"Korea","m":120,"v":0.47},{"s":"Korea","m":121,"v":0.485},{"s":"Korea","m":122,"v":0.50},{"s":"Korea","m":123,"v":0.515},{"s":"Korea","m":124,"v":0.52},{"s":"Korea","m":125,"v":0.53},{"s":"Korea","m":126,"v":0.535},{"s":"Korea","m":127,"v":0.53},{"s":"Korea","m":128,"v":0.52},{"s":"Korea","m":129,"v":0.51},{"s":"Korea","m":130,"v":0.50},{"s":"Korea","m":131,"v":0.47},
{"s":"Korea","m":132,"v":0.485},{"s":"Korea","m":133,"v":0.50},{"s":"Korea","m":134,"v":0.51},{"s":"Korea","m":135,"v":0.51},{"s":"Korea","m":136,"v":0.51},{"s":"Korea","m":137,"v":0.515},{"s":"Korea","m":138,"v":0.53},{"s":"Korea","m":139,"v":0.545},{"s":"Korea","m":140,"v":0.555},{"s":"Korea","m":141,"v":0.55},{"s":"Korea","m":142,"v":0.545},{"s":"Korea","m":143,"v":0.545},
{"s":"Korea","m":144,"v":0.56},{"s":"Korea","m":145,"v":0.575},{"s":"Korea","m":146,"v":0.60},{"s":"Korea","m":147,"v":0.61},{"s":"Korea","m":148,"v":0.62},{"s":"Korea","m":149,"v":0.63},{"s":"Korea","m":150,"v":0.635},{"s":"Korea","m":151,"v":0.645},{"s":"Korea","m":152,"v":0.66},{"s":"Korea","m":153,"v":0.675},{"s":"Korea","m":154,"v":0.69},{"s":"Korea","m":155,"v":0.715},
{"s":"Korea","m":156,"v":0.70},{"s":"Korea","m":157,"v":0.69},{"s":"Korea","m":158,"v":0.68},{"s":"Korea","m":159,"v":0.735},{"s":"Korea","m":160,"v":0.765},{"s":"Korea","m":161,"v":0.785},{"s":"Korea","m":162,"v":0.74},{"s":"Korea","m":163,"v":0.72},{"s":"Korea","m":164,"v":0.72},{"s":"Korea","m":165,"v":0.70},{"s":"Korea","m":166,"v":0.67},{"s":"Korea","m":167,"v":0.64},
{"s":"Korea","m":168,"v":0.635},{"s":"Korea","m":169,"v":0.625},{"s":"Korea","m":170,"v":0.62},{"s":"Korea","m":171,"v":0.64},{"s":"Korea","m":172,"v":0.645},{"s":"Korea","m":173,"v":0.65},{"s":"Korea","m":174,"v":0.64},{"s":"Korea","m":175,"v":0.635},{"s":"Korea","m":176,"v":0.635},{"s":"Korea","m":177,"v":0.59}
]},
"resolve":{"axis":{"x":"independent"},"scale":{"x":"shared"}},
"layer":[
{"mark":{"type":"line","strokeWidth":12,"strokeJoin":"round","strokeCap":"round"},
"encoding":{
"x":{"field":"m","type":"quantitative","scale":{"domain":[-0.5,182.5],"nice":false,"zero":false},
"axis":{"orient":"bottom","title":null,"labels":false,"ticks":true,"tickSize":76,"tickWidth":1,"domain":true,"domainWidth":3,
"values":[-0.5,0.5,1.5,2.5,3.5,4.5,5.5,6.5,7.5,8.5,9.5,10.5,11.5,12.5,13.5,14.5,15.5,16.5,17.5,18.5,19.5,20.5,21.5,22.5,23.5,24.5,25.5,26.5,27.5,28.5,29.5,30.5,31.5,32.5,33.5,34.5,35.5,36.5,37.5,38.5,39.5,40.5,41.5,42.5,43.5,44.5,45.5,46.5,47.5,48.5,49.5,50.5,51.5,52.5,53.5,54.5,55.5,56.5,57.5,58.5,59.5,60.5,61.5,62.5,63.5,64.5,65.5,66.5,67.5,68.5,69.5,70.5,71.5,72.5,73.5,74.5,75.5,76.5,77.5,78.5,79.5,80.5,81.5,82.5,83.5,84.5,85.5,86.5,87.5,88.5,89.5,90.5,91.5,92.5,93.5,94.5,95.5,96.5,97.5,98.5,99.5,100.5,101.5,102.5,103.5,104.5,105.5,106.5,107.5,108.5,109.5,110.5,111.5,112.5,113.5,114.5,115.5,116.5,117.5,118.5,119.5,120.5,121.5,122.5,123.5,124.5,125.5,126.5,127.5,128.5,129.5,130.5,131.5,132.5,133.5,134.5,135.5,136.5,137.5,138.5,139.5,140.5,141.5,142.5,143.5,144.5,145.5,146.5,147.5,148.5,149.5,150.5,151.5,152.5,153.5,154.5,155.5,156.5,157.5,158.5,159.5,160.5,161.5,162.5,163.5,164.5,165.5,166.5,167.5,168.5,169.5,170.5,171.5,172.5,173.5,174.5,175.5,176.5,177.5,178.5,179.5,180.5,181.5,182.5]}},
"y":{"field":"v","type":"quantitative","scale":{"domain":[0,3.5],"nice":false},
"axis":{"values":[0,0.5,1,1.5,2,2.5,3,3.5],"format":".1f","grid":true,"gridColor":"#8c8c8c","gridWidth":1,"domain":true,"domainWidth":2,"ticks":true,"tickSize":13,"labelFontSize":45,"labelPadding":31,"labelBaseline":"middle",
"title":"$ Billions","titleAngle":0,"titleAlign":"left","titleBaseline":"alphabetic","titleX":18,"titleY":-20,"titleFontSize":44}},
"color":{"field":"s","type":"nominal",
"scale":{"domain":["N America","Europe","Japan","Taiwan/China","Rest of Asia","Korea"],"range":["#008000","#808080","#0070C0","#FF00FF","#A50021","#FF9900"]},
"legend":{"orient":"none","legendX":80,"legendY":41,"title":null,"fillColor":"white","strokeColor":"#333333","padding":6,"symbolOffset":13.5,"symbolType":"M-1.806,0L1.806,0","symbolStrokeWidth":13,"symbolSize":961,"labelFont":"Liberation Sans","labelFontSize":36,"labelColor":"black","labelOffset":12,"rowPadding":4.4,"labelLimit":500,
"encode":{"symbols":{"update":{"strokeCap":{"value":"round"}}}}}}
}},
{"data":{"values":[]},"mark":{"type":"rule","opacity":0},
"encoding":{"x":{"field":"m","type":"quantitative","scale":{"domain":[-0.5,182.5],"nice":false,"zero":false},
"axis":{"orient":"bottom","title":null,"ticks":false,"tickSize":0,"domain":false,"labelAngle":270,"labelAlign":"right","labelBaseline":"middle","labelPadding":20,"labelFontSize":28,
"values":[0,4,8,12,16,20,24,28,32,36,40,44,48,52,56,60,64,68,72,76,80,84,88,92,96,100,104,108,112,116,120,124,128,132,136,140,144,148,152,156,160,164,168,172,176,180],
"labelExpr":"datum.value % 12 == 0 ? 'Jan' : (datum.value % 12 == 4 ? 'May' : 'Sep')"}}}},
{"data":{"values":[]},"mark":{"type":"rule","opacity":0},
"encoding":{"x":{"field":"m","type":"quantitative","scale":{"domain":[-0.5,182.5],"nice":false,"zero":false},
"axis":{"orient":"bottom","title":null,"labels":false,"ticks":true,"tickSize":130,"tickWidth":1,"domain":false,
"values":[-0.5,11.5,23.5,35.5,47.5,59.5,71.5,83.5,95.5,107.5,119.5,131.5,143.5,155.5,167.5,179.5,182.5]}}}},
{"data":{"values":[]},"mark":{"type":"rule","opacity":0},
"encoding":{"x":{"field":"m","type":"quantitative","scale":{"domain":[-0.5,182.5],"nice":false,"zero":false},
"axis":{"orient":"bottom","ticks":false,"tickSize":0,"domain":false,"labelPadding":111,"labelBaseline":"middle","labelFontSize":29,
"values":[5.5,17.5,29.5,41.5,53.5,65.5,77.5,89.5,101.5,113.5,125.5,137.5,149.5,161.5,173.5,181],
"labelExpr":"(datum.value < 120 ? '0' : '') + floor(datum.value / 12)",
"title":"Calendar Year","titleFontSize":46,"titleX":873,"titleY":190,"titleAlign":"center","titleBaseline":"alphabetic","titleAnchor":null}}}}
]
}
